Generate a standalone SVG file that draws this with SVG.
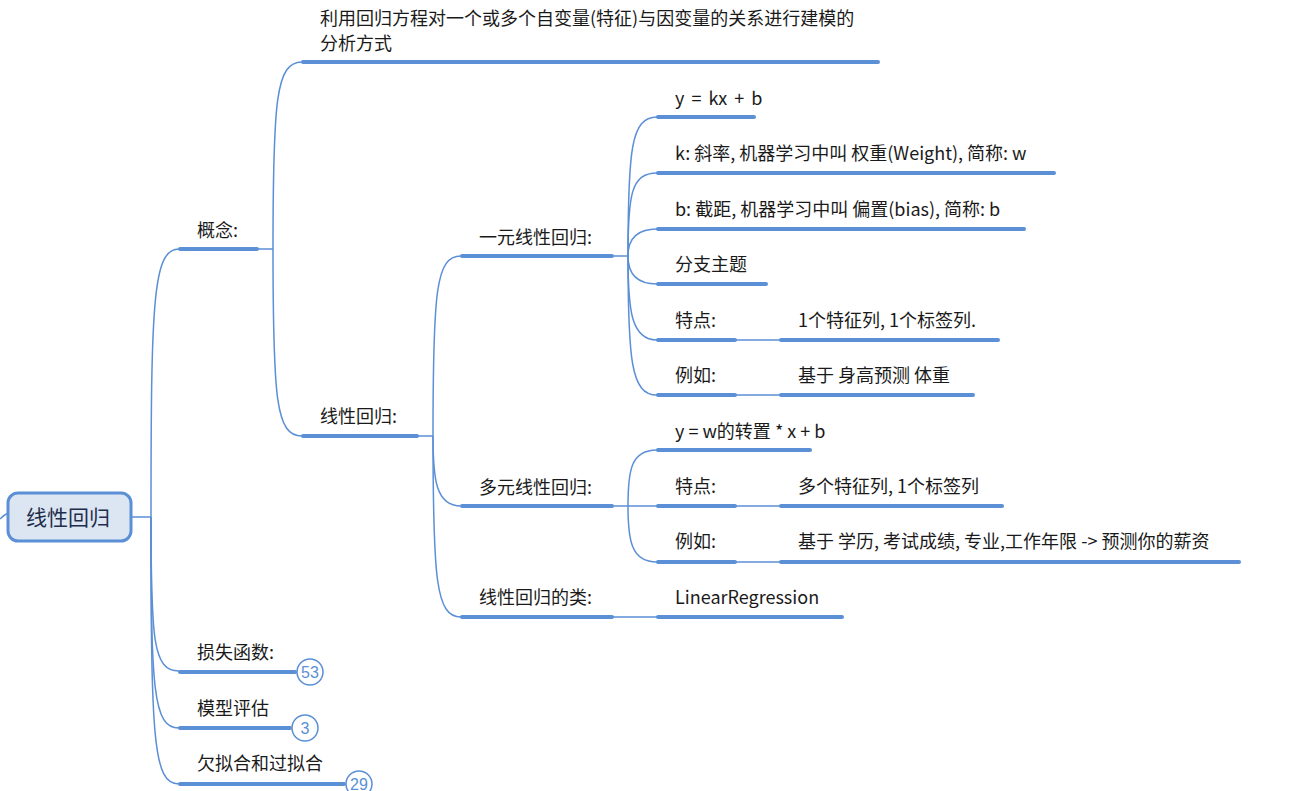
<svg xmlns="http://www.w3.org/2000/svg" width="1293" height="791" viewBox="0 0 1293 791">
<style>
.bg{fill:#ffffff}
.c{fill:none;stroke:#5b8fd6;stroke-width:1.5}
.u{fill:none;stroke:#5b8fd6;stroke-width:4;stroke-linecap:round}
.t{font-family:"Noto Sans CJK SC","Liberation Sans",sans-serif;font-size:18px;fill:#1a1a1a}
.badge circle{fill:#ffffff;stroke:#5b8fd6;stroke-width:1.5}
.badge text{font-family:"Liberation Sans",sans-serif;font-size:16px;fill:#5b8fd6;text-anchor:middle}
</style>
<rect class="bg" x="0" y="0" width="1293" height="791"/>
<g id="connectors">
  <path class="c" d="M0,519 Q4,515 8,513"/>
  <path class="c" d="M131,517 H151"/>
  <path class="c" d="M151,517 C151,300 153,249 179,249"/>
  <path class="c" d="M151,517 C151,640 153,671 179,671"/>
  <path class="c" d="M151,517 C151,690 153,728 179,728"/>
  <path class="c" d="M151,517 C151,740 153,784 179,784"/>
  <path class="c" d="M257,249 H273"/>
  <path class="c" d="M273,249 C273,100 276,62 302,62"/>
  <path class="c" d="M273,249 C273,400 276,436 302,436"/>
  <path class="c" d="M417,436 H433"/>
  <path class="c" d="M433,436 C433,290 436,256 461,256"/>
  <path class="c" d="M433,436 C433,480 436,506 461,506"/>
  <path class="c" d="M433,436 C433,580 436,617 461,617"/>
  <path class="c" d="M612,256 H628"/>
  <path class="c" d="M628,256 C628,150 631,117 657,117"/>
  <path class="c" d="M628,256 C628,195 631,173 657,173"/>
  <path class="c" d="M628,256 C628,240 635,229 657,229"/>
  <path class="c" d="M628,256 C628,272 635,284 657,284"/>
  <path class="c" d="M628,256 C628,310 631,340 657,340"/>
  <path class="c" d="M628,256 C628,360 631,395 657,395"/>
  <path class="c" d="M735,340 H780"/>
  <path class="c" d="M735,395 H780"/>
  <path class="c" d="M612,506 H657"/>
  <path class="c" d="M628,506 C628,470 631,450 657,450"/>
  <path class="c" d="M628,506 C628,540 631,562 657,562"/>
  <path class="c" d="M735,506 H780"/>
  <path class="c" d="M735,562 H780"/>
  <path class="c" d="M612,617 H657"/>
</g>
<g id="root">
  <rect x="8" y="493" width="123" height="48" rx="10" fill="#dce6f2" stroke="#5b8fd6" stroke-width="3"/>
  <text x="68" y="525" font-family="'Noto Sans CJK SC',sans-serif" font-size="21" fill="#1f2d4d" text-anchor="middle">线性回归</text>
</g>
<g id="n-concept"><line class="u" x1="180" y1="249" x2="257" y2="249"/><text class="t" x="197" y="237">概念:</text></g>
<g id="n-def"><line class="u" x1="303" y1="62" x2="878" y2="62"/><text class="t" x="320" y="25">利用回归方程对一个或多个自变量(特征)与因变量的关系进行建模的</text><text class="t" x="320" y="50">分析方式</text></g>
<g id="n-linreg"><line class="u" x1="303" y1="436" x2="417" y2="436"/><text class="t" x="320" y="423">线性回归:</text></g>
<g id="n-uni"><line class="u" x1="462" y1="256" x2="612" y2="256"/><text class="t" x="479" y="244">一元线性回归:</text></g>
<g id="n-multi"><line class="u" x1="462" y1="506" x2="612" y2="506"/><text class="t" x="479" y="494">多元线性回归:</text></g>
<g id="n-class"><line class="u" x1="462" y1="617" x2="612" y2="617"/><text class="t" x="479" y="604">线性回归的类:</text></g>
<g id="n-ykxb"><line class="u" x1="658" y1="117" x2="754" y2="117"/><text class="t" x="675" y="105" word-spacing="3">y = kx + b</text></g>
<g id="n-k"><line class="u" x1="658" y1="173" x2="1054" y2="173"/><text class="t" x="675" y="160">k: 斜率, 机器学习中叫 权重(Weight), 简称: w</text></g>
<g id="n-b"><line class="u" x1="658" y1="229" x2="1024" y2="229"/><text class="t" x="675" y="216">b: 截距, 机器学习中叫 偏置(bias), 简称: b</text></g>
<g id="n-branch"><line class="u" x1="658" y1="284" x2="766" y2="284"/><text class="t" x="675" y="271">分支主题</text></g>
<g id="n-feat1"><line class="u" x1="658" y1="340" x2="735" y2="340"/><text class="t" x="675" y="327">特点:</text></g>
<g id="n-feat1v"><line class="u" x1="781" y1="340" x2="998" y2="340"/><text class="t" x="798" y="327">1个特征列, 1个标签列.</text></g>
<g id="n-eg1"><line class="u" x1="658" y1="395" x2="735" y2="395"/><text class="t" x="675" y="382">例如:</text></g>
<g id="n-eg1v"><line class="u" x1="781" y1="395" x2="973" y2="395"/><text class="t" x="798" y="382">基于 身高预测 体重</text></g>
<g id="n-ywx"><line class="u" x1="658" y1="450" x2="810" y2="450"/><text class="t" x="675" y="438">y = w的转置 * x + b</text></g>
<g id="n-feat2"><line class="u" x1="658" y1="506" x2="735" y2="506"/><text class="t" x="675" y="493">特点:</text></g>
<g id="n-feat2v"><line class="u" x1="781" y1="506" x2="1002" y2="506"/><text class="t" x="798" y="493">多个特征列, 1个标签列</text></g>
<g id="n-eg2"><line class="u" x1="658" y1="562" x2="735" y2="562"/><text class="t" x="675" y="548">例如:</text></g>
<g id="n-eg2v"><line class="u" x1="781" y1="562" x2="1239" y2="562"/><text class="t" x="798" y="548">基于 学历, 考试成绩, 专业,工作年限 -&gt; 预测你的薪资</text></g>
<g id="n-lr"><line class="u" x1="658" y1="617" x2="842" y2="617"/><text class="t" x="675" y="604">LinearRegression</text></g>
<g id="n-loss"><line class="u" x1="180" y1="672" x2="295" y2="672"/><text class="t" x="197" y="659">损失函数:</text>
  <g class="badge"><circle cx="310" cy="672" r="13"/><text x="310" y="677.5">53</text></g></g>
<g id="n-eval"><line class="u" x1="180" y1="728" x2="290" y2="728"/><text class="t" x="197" y="715">模型评估</text>
  <g class="badge"><circle cx="305" cy="728" r="13"/><text x="305" y="733.5">3</text></g></g>
<g id="n-fit"><line class="u" x1="180" y1="784" x2="344" y2="784"/><text class="t" x="197" y="770">欠拟合和过拟合</text>
  <g class="badge"><circle cx="359" cy="784" r="13"/><text x="359" y="789.5">29</text></g></g>
</svg>
